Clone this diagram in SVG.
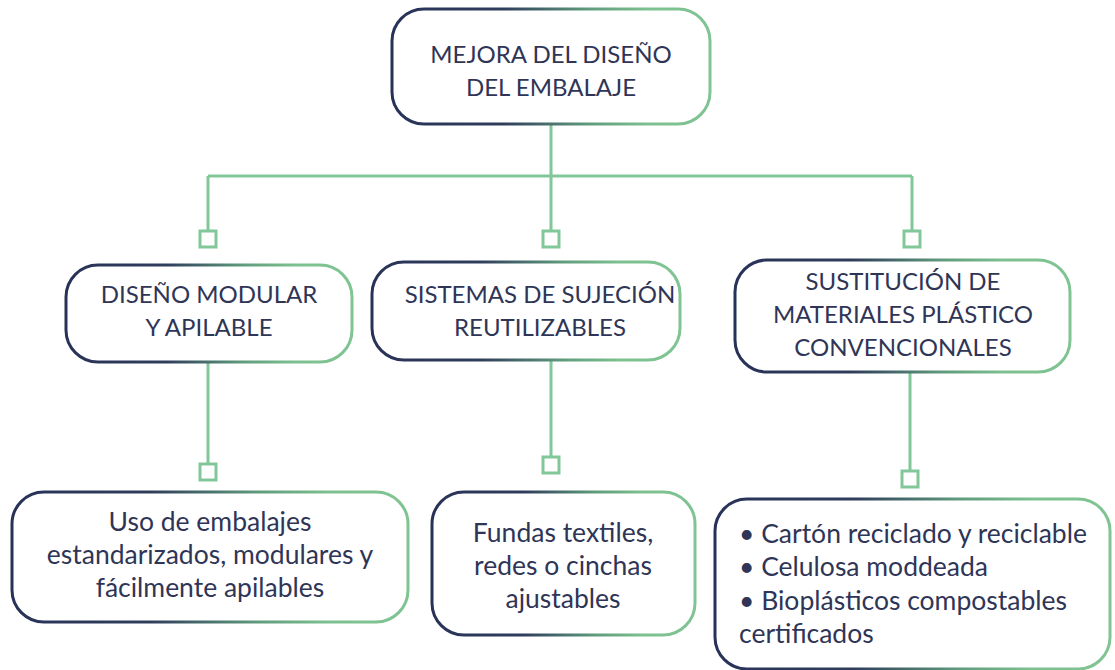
<svg xmlns="http://www.w3.org/2000/svg" width="1115" height="670" viewBox="0 0 1115 670">
<defs>
<linearGradient id="g" x1="0" y1="0" x2="1" y2="0">
<stop offset="0" stop-color="#283258"/>
<stop offset="0.35" stop-color="#2f3d5b"/>
<stop offset="0.62" stop-color="#5f9c7d"/>
<stop offset="0.8" stop-color="#7cc08f"/>
<stop offset="1" stop-color="#80c493"/>
</linearGradient>
</defs>
<style>
.box{fill:#ffffff;stroke:url(#g);stroke-width:3}
.t{font-family:Lato,"Liberation Sans",sans-serif;font-size:24px;fill:#2f3556;text-anchor:middle}
.b{font-family:Lato,"Liberation Sans",sans-serif;font-size:26.5px;fill:#2f3556;text-anchor:middle}
.tl{font-family:Lato,"Liberation Sans",sans-serif;font-size:26.5px;fill:#2f3556}
.c{fill:none;stroke:#82c799;stroke-width:3}
.sq{fill:#ffffff;stroke:#82c799;stroke-width:3}
</style>
<rect width="1115" height="670" fill="#ffffff"/>
<g id="connectors">
<path class="c" d="M551 125V176M208 176H912M208 176V231M551 176V231M912 176V231"/>
<path class="c" d="M208 362V464M551 360V457M910 373V471"/>
<rect class="sq" x="200" y="231" width="16" height="16"/>
<rect class="sq" x="543" y="231" width="16" height="16"/>
<rect class="sq" x="904" y="231" width="16" height="16"/>
<rect class="sq" x="200" y="464" width="16" height="16"/>
<rect class="sq" x="543" y="457" width="16" height="16"/>
<rect class="sq" x="902" y="471" width="16" height="16"/>
</g>
<g id="root">
<rect class="box" x="392" y="9" width="318" height="115" rx="32"/>
<text class="t" x="551" y="63">MEJORA DEL DISEÑO</text>
<text class="t" x="551" y="96">DEL EMBALAJE</text>
</g>
<g id="n1">
<rect class="box" x="66" y="265" width="286" height="97" rx="32"/>
<text class="t" x="209" y="303">DISEÑO MODULAR</text>
<text class="t" x="209" y="336">Y APILABLE</text>
</g>
<g id="n2">
<rect class="box" x="372" y="262" width="308" height="98" rx="32"/>
<text class="t" x="540" y="303">SISTEMAS DE SUJECIÓN</text>
<text class="t" x="540" y="336">REUTILIZABLES</text>
</g>
<g id="n3">
<rect class="box" x="735" y="260" width="335" height="112" rx="32"/>
<text class="t" x="903" y="290">SUSTITUCIÓN DE</text>
<text class="t" x="903" y="323">MATERIALES  PLÁSTICO</text>
<text class="t" x="903" y="356">CONVENCIONALES</text>
</g>
<g id="n4">
<rect class="box" x="12" y="492" width="396" height="130" rx="32"/>
<text class="b" x="210" y="531">Uso de embalajes</text>
<text class="b" x="210" y="564">estandarizados, modulares y</text>
<text class="b" x="210" y="597">fácilmente apilables</text>
</g>
<g id="n5">
<rect class="box" x="432" y="492" width="263" height="143" rx="32"/>
<text class="b" x="563" y="542">Fundas textiles,</text>
<text class="b" x="563" y="575">redes o cinchas</text>
<text class="b" x="563" y="608">ajustables</text>
</g>
<g id="n6">
<rect class="box" x="715" y="499" width="395" height="170" rx="32"/>
<text class="tl" x="739" y="543">• Cartón reciclado y reciclable</text>
<text class="tl" x="739" y="576">• Celulosa moddeada</text>
<text class="tl" x="739" y="610">• Bioplásticos compostables</text>
<text class="tl" x="739" y="643">certificados</text>
</g>
</svg>
